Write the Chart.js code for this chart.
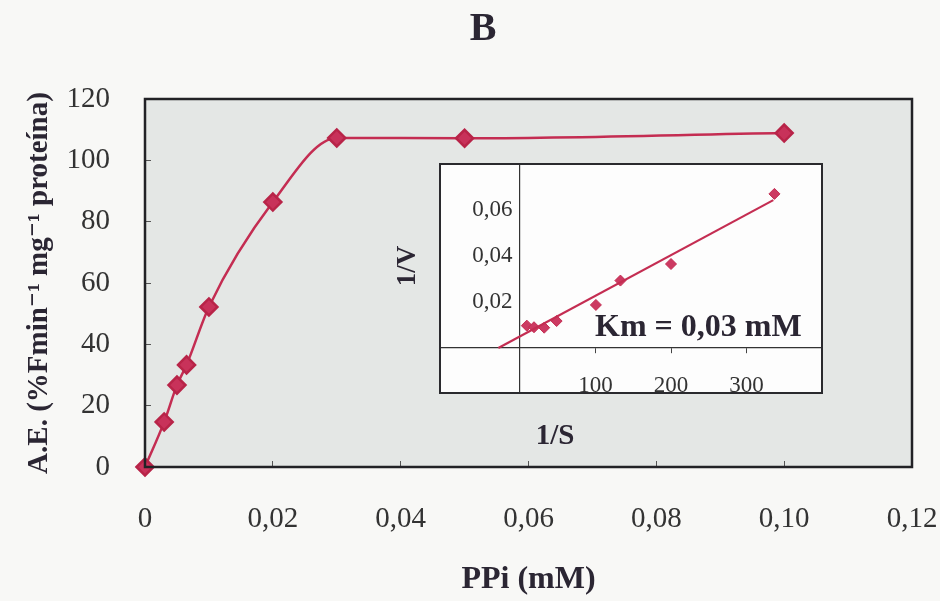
<!DOCTYPE html>
<html lang="es">
<head>
    <meta charset="UTF-8">
    <title>PPi - A.E.</title>
    <script src="https://cdn.jsdelivr.net/npm/chart.js"></script>
    <style>
        body {
            margin: 0;
            padding: 0;
            background-color: #f8f8f6;
        }

        .wrap {
            position: relative;
            width: 940px;
            height: 601px;
        }

        #mainChart {
            position: absolute;
            left: 0;
            top: 0;
        }

        #insetChart {
            position: absolute;
            left: 385px;
            top: 150px;
        }
    </style>
</head>
<body>

    <div class="wrap">
        <canvas id="mainChart" width="940" height="601"></canvas>
        <canvas id="insetChart" width="450" height="310"></canvas>
    </div>

    <script>
        // main curve: activity vs PPi
        const ppi = [0, 0.003, 0.005, 0.0065, 0.01, 0.02, 0.03, 0.05, 0.1];
        const activity = [0, 14.7, 26.7, 33.3, 52.2, 86.4, 107.3, 107.2, 108.9];
        const xTicksMain = [0, 0.02, 0.04, 0.06, 0.08, 0.10, 0.12];
        const yTicksMain = [0, 20, 40, 60, 80, 100, 120];

        // inset: Lineweaver-Burk
        const invS = [9, 18.5, 32, 48.5, 100.5, 133, 200, 337];
        const invV = [0.0097, 0.0090, 0.0088, 0.0117, 0.0187, 0.0293, 0.0365, 0.067];
        const fitX = [-28.7, 335.5];
        const fitY = [0, 0.0643];
        const xTicksInset = [100, 200, 300];
        const yTicksInset = [0.02, 0.04, 0.06];

        const serif = "'Liberation Serif', 'DejaVu Serif', serif";
        const ink = '#2b2633';
        const red = '#c42d52';

        function comma(v, digits) {
            if (v === 0) return '0';
            return v.toFixed(digits).replace('.', ',');
        }

        // labels hanging over the edges should not shrink the plot area
        function noPadding(scale) {
            scale.paddingLeft = 0;
            scale.paddingRight = 0;
            scale.paddingTop = 0;
            scale.paddingBottom = 0;
        }

        // plot area fill with a dark frame
        const framePlugin = {
            id: 'frame',
            beforeDraw(chart, args, opts) {
                const a = chart.chartArea;
                const ctx = chart.ctx;
                ctx.save();
                ctx.fillStyle = opts.fill;
                ctx.fillRect(a.left, a.top, a.right - a.left, a.bottom - a.top);
                ctx.restore();
            },
            afterDraw(chart, args, opts) {
                const a = chart.chartArea;
                const ctx = chart.ctx;
                ctx.save();
                ctx.strokeStyle = opts.stroke;
                ctx.lineWidth = opts.width;
                ctx.strokeRect(a.left, a.top, a.right - a.left, a.bottom - a.top);
                ctx.restore();
            }
        };

        const mainChart = new Chart(document.getElementById('mainChart'), {
            type: 'line',
            data: {
                datasets: [{
                    data: ppi.map((x, i) => ({ x: x, y: activity[i] })),
                    borderColor: red,
                    backgroundColor: red,
                    borderWidth: 2.5,
                    pointStyle: 'rectRot',
                    pointRadius: 8.5,
                    pointBorderColor: '#b82448',
                    pointBackgroundColor: '#c8325a',
                    cubicInterpolationMode: 'monotone',
                    clip: false
                }]
            },
            options: {
                responsive: false,
                animation: false,
                // left padding moves the centred "B" to the right like in the scan
                layout: { padding: { left: 54, right: 28, top: 0, bottom: 0 } },
                plugins: {
                    legend: { display: false },
                    tooltip: { enabled: false },
                    title: {
                        display: true,
                        text: 'B',
                        color: ink,
                        font: { family: serif, size: 40, weight: 'bold' },
                        padding: { top: 6, bottom: 45 }
                    },
                    frame: { fill: '#e4e7e5', stroke: '#222226', width: 2.5 }
                },
                scales: {
                    x: {
                        type: 'linear',
                        min: 0,
                        max: 0.12,
                        afterBuildTicks: (scale) => { scale.ticks = xTicksMain.map(v => ({ value: v })); },
                        afterFit: (scale) => { scale.height = 134; noPadding(scale); },
                        grid: { drawOnChartArea: false, tickLength: -6, color: '#555' },
                        border: { display: false },
                        ticks: {
                            padding: 41,
                            color: '#333',
                            font: { family: serif, size: 29 },
                            callback: (v) => comma(v, 2)
                        },
                        title: {
                            display: true,
                            text: 'PPi (mM)',
                            color: ink,
                            font: { family: serif, size: 32, weight: 'bold' },
                            padding: { top: 0, bottom: 2 }
                        }
                    },
                    y: {
                        min: 0,
                        max: 120,
                        afterBuildTicks: (scale) => { scale.ticks = yTicksMain.map(v => ({ value: v })); },
                        afterFit: (scale) => { scale.width = 91; noPadding(scale); },
                        grid: { drawOnChartArea: false, tickLength: -6, color: '#555' },
                        border: { display: false },
                        ticks: {
                            padding: 41,
                            color: '#333',
                            font: { family: serif, size: 29 }
                        },
                        title: {
                            display: true,
                            text: 'A.E. (%Fmin\u207B\u00B9 mg\u207B\u00B9 proteína)',
                            color: ink,
                            font: { family: serif, size: 29, weight: 'bold' },
                            padding: { top: -32, bottom: 0 }
                        }
                    }
                }
            },
            plugins: [framePlugin]
        });

        // texts of the inset that sit outside the axes
        const insetText = {
            id: 'insetText',
            afterDraw(chart) {
                const ctx = chart.ctx;
                ctx.save();
                ctx.fillStyle = ink;
                ctx.textBaseline = 'middle';
                ctx.font = 'bold 27px ' + serif;
                ctx.save();
                ctx.translate(23, 116);
                ctx.rotate(-Math.PI / 2);
                ctx.textAlign = 'center';
                ctx.fillText('1/V', 0, 0);
                ctx.restore();
                ctx.textAlign = 'center';
                ctx.font = 'bold 29px ' + serif;
                ctx.fillText('1/S', 170, 287);
                ctx.textAlign = 'left';
                ctx.font = 'bold 32px ' + serif;
                ctx.fillText('Km = 0,03 mM', 210, 178);
                ctx.restore();
            }
        };

        const insetChart = new Chart(document.getElementById('insetChart'), {
            type: 'scatter',
            data: {
                datasets: [{
                    type: 'line',
                    data: fitX.map((x, i) => ({ x: x, y: fitY[i] })),
                    borderColor: red,
                    borderWidth: 2.2,
                    pointRadius: 0
                }, {
                    data: invS.map((x, i) => ({ x: x, y: invV[i] })),
                    pointStyle: 'rectRot',
                    pointRadius: 5.5,
                    pointBorderColor: '#c42d52',
                    pointBackgroundColor: '#cc3a62',
                    clip: false
                }]
            },
            options: {
                responsive: false,
                animation: false,
                layout: { padding: { left: 55, right: 13, top: 14, bottom: 67 } },
                plugins: {
                    legend: { display: false },
                    tooltip: { enabled: false },
                    frame: { fill: '#fdfdfd', stroke: '#2a2a2e', width: 2 }
                },
                scales: {
                    x: {
                        type: 'linear',
                        position: { y: 0 },
                        min: -106,
                        max: 400,
                        afterBuildTicks: (scale) => { scale.ticks = xTicksInset.map(v => ({ value: v })); },
                        afterFit: noPadding,
                        grid: { drawOnChartArea: false, tickLength: 5, color: '#444' },
                        border: { display: true, color: '#333', width: 1.2 },
                        ticks: {
                            padding: 19,
                            color: '#333',
                            font: { family: serif, size: 23 }
                        }
                    },
                    // the axis line through x = 0
                    y: {
                        type: 'linear',
                        position: { x: 0 },
                        min: -0.0196,
                        max: 0.08,
                        afterBuildTicks: (scale) => { scale.ticks = yTicksInset.map(v => ({ value: v })); },
                        afterFit: noPadding,
                        grid: { drawOnChartArea: false, drawTicks: false },
                        border: { display: true, color: '#333', width: 1.2 },
                        ticks: { display: false }
                    },
                    // its labels, set a little to the left of the line
                    yLabels: {
                        type: 'linear',
                        axis: 'y',
                        position: { x: -10 },
                        min: -0.0196,
                        max: 0.08,
                        afterBuildTicks: (scale) => { scale.ticks = yTicksInset.map(v => ({ value: v })); },
                        afterFit: noPadding,
                        grid: { display: false },
                        border: { display: false },
                        ticks: {
                            color: '#333',
                            font: { family: serif, size: 23 },
                            callback: (v) => comma(v, 2)
                        }
                    }
                }
            },
            plugins: [framePlugin, insetText]
        });
    </script>
</body>
</html>
